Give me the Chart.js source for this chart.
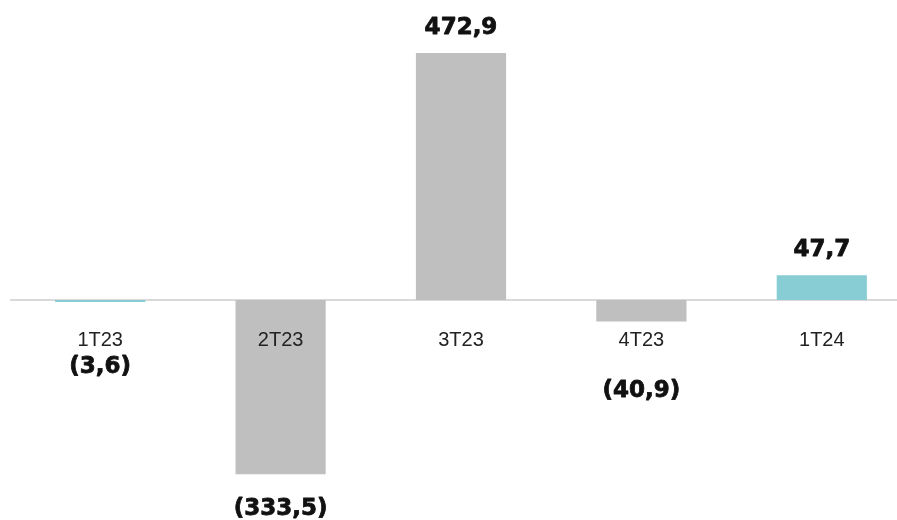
<!DOCTYPE html>
<html><head><meta charset="utf-8">
<script src="https://cdn.jsdelivr.net/npm/chart.js@4.4.1/dist/chart.umd.min.js"></script>
<style>
html,body{margin:0;padding:0;background:#fff;overflow:hidden;width:897px;height:520px;}
#wrap{position:absolute;left:10px;top:0;width:902px;height:520px;}
</style></head>
<body>
<div id="wrap"><canvas id="c"></canvas></div>
<script>
const categories = ['1T23', '2T23', '3T23', '4T23', '1T24'];
const values = [-3.6, -333.5, 472.9, -40.9, 47.7];
const valueLabels = ['(3,6)', '(333,5)', '472,9', '(40,9)', '47,7'];
const barColors = ['#88cdd4', '#bfbfbf', '#bfbfbf', '#bfbfbf', '#88cdd4'];

const labelPlugin = {
  id: 'valueLabels',
  afterDraw(chart, args, opts) {
    const ctx = chart.ctx;
    const meta = chart.getDatasetMeta(0);
    const yScale = chart.scales.y;
    const zero = yScale.getPixelForValue(0);
    ctx.save();
    ctx.font = opts.font;
    ctx.fillStyle = opts.color;
    ctx.strokeStyle = opts.color;
    ctx.lineWidth = opts.stroke;
    ctx.lineJoin = 'round';
    ctx.textAlign = 'center';
    ctx.textBaseline = 'middle';
    meta.data.forEach((bar, i) => {
      const v = values[i];
      let y;
      if (v >= 0) {
        y = bar.y - opts.posOffset;
      } else {
        y = Math.max(bar.y + opts.negOffset, zero + opts.minBelowZero[i]);
      }
      ctx.strokeText(valueLabels[i], bar.x, y);
      ctx.fillText(valueLabels[i], bar.x, y);
    });
    ctx.restore();
  }
};

new Chart(document.getElementById('c'), {
  type: 'bar',
  data: {
    labels: categories,
    datasets: [{
      data: values,
      backgroundColor: barColors,
      borderWidth: 0,
      categoryPercentage: 1,
      barPercentage: 0.5
    }]
  },
  options: {
    responsive: true,
    maintainAspectRatio: false,
    animation: false,
    layout: { padding: 0 },
    plugins: {
      legend: { display: false },
      tooltip: { enabled: false },
      valueLabels: {
        font: 'bold 23px "DejaVu Sans"',
        color: '#111',
        stroke: 0.8,
        posOffset: 25,
        negOffset: 35,
        minBelowZero: [67, 0, 0, 91, 0]
      }
    },
    scales: {
      x: {
        position: { y: 0 },
        grid: { display: false, drawTicks: false },
        border: { display: true, color: '#d9d9d9', width: 2 },
        ticks: {
          z: 2,
          padding: 28,
          color: '#222',
          font: { family: '"Liberation Sans", Arial, sans-serif', size: 20 }
        }
      },
      y: {
        display: false,
        min: -421,
        max: 574.5
      }
    }
  },
  plugins: [labelPlugin]
});
</script>
</body></html>
